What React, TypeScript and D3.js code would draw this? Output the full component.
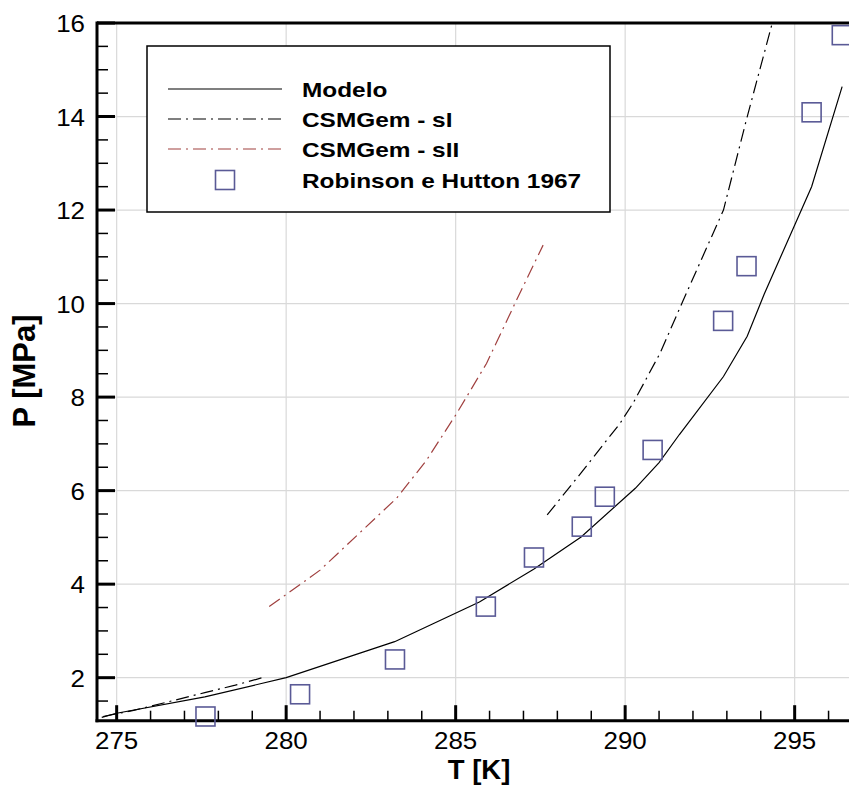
import React from "react";
import * as d3 from "d3";

const modeloT = [274.56, 275.0, 277.6, 280.0, 283.2, 285.7, 287.3, 288.7, 290.3, 291.0, 291.6, 292.9, 293.6, 294.1, 295.5, 296.4];
const modeloP = [1.15, 1.24, 1.59, 2.0, 2.77, 3.62, 4.32, 5.01, 6.05, 6.6, 7.2, 8.44, 9.3, 10.2, 12.5, 14.64];

const sILowT = [274.6, 275.5, 276.5, 277.6, 278.5, 279.4];
const sILowP = [1.17, 1.3, 1.48, 1.68, 1.84, 2.02];
const sIHighT = [287.7, 288.7, 289.85, 290.24, 291.03, 291.7, 292.9, 293.58, 294.34];
const sIHighP = [5.48, 6.38, 7.44, 7.88, 8.94, 10.05, 12.0, 13.94, 16.0];

const sIIT = [279.5, 280.6, 281.0, 283.26, 284.14, 285.03, 285.91, 286.8, 287.58];
const sIIP = [3.52, 4.09, 4.3, 5.84, 6.65, 7.65, 8.72, 10.08, 11.25];

const expT = [277.62, 280.41, 283.21, 285.89, 287.31, 288.72, 289.4, 290.81, 292.89, 293.58, 295.5, 296.39];
const expP = [1.17, 1.645, 2.39, 3.52, 4.57, 5.23, 5.87, 6.87, 9.63, 10.8, 14.09, 15.74];

const xMajor = [275, 280, 285, 290, 295];
const yMajor = [2, 4, 6, 8, 10, 12, 14, 16];
const legendLabels = ["Modelo", "CSMGem - sI", "CSMGem - sII", "Robinson e Hutton 1967"];

const W = 849;
const H = 785;
const left = 97;
const top = 23;
const bottom = 720.7;

export default function App() {
  const x = d3.scaleLinear().domain([274.42, 297]).range([left, left + (297 - 274.42) * 33.9]);
  const y = d3.scaleLinear().domain([1.08, 16]).range([bottom, top]);

  const line = d3
    .line<[number, number]>()
    .x((d) => x(d[0]))
    .y((d) => y(d[1]));

  const zip = (a: number[], b: number[]) => a.map((v, i) => [v, b[i]] as [number, number]);

  const xMinor = d3.range(275, 298, 1).filter((v) => v % 5 !== 0);
  const yMinor = d3.range(1.5, 16, 0.5).filter((v) => Math.abs(v % 2) > 0.01);

  const dash = "13 5 2 5";
  const red = "#a0403f";
  const sqColor = "#5a5a96";
  const legendY = [89, 119, 149, 180];

  return (
    <svg
      width={W}
      height={H}
      style={{ position: "absolute", left: 0, top: 0, background: "#fff" }}
      fontFamily="'Liberation Sans', Arial, sans-serif"
    >
      <defs>
        <clipPath id="plotclip">
          <rect x={left} y={top} width={W - left} height={bottom - top} />
        </clipPath>
      </defs>
      <rect x={0} y={0} width={W} height={H} fill="#fff" />
      {/* grid */}
      {xMajor.map((v) => (
        <line key={"gx" + v} x1={x(v)} x2={x(v)} y1={top} y2={bottom} stroke="#d9d9d9" strokeWidth={1.2} />
      ))}
      {yMajor.map((v) => (
        <line key={"gy" + v} x1={left} x2={W} y1={y(v)} y2={y(v)} stroke="#d9d9d9" strokeWidth={1.2} />
      ))}

      {/* legend */}
      <rect x={147} y={46} width={463} height={166} fill="#fff" stroke="#000" strokeWidth={1.5} />
      <line x1={168} x2={282} y1={legendY[0]} y2={legendY[0]} stroke="#000" strokeWidth={1.2} />
      <line x1={168} x2={282} y1={legendY[1]} y2={legendY[1]} stroke="#000" strokeWidth={1.2} strokeDasharray={dash} />
      <line x1={168} x2={282} y1={legendY[2]} y2={legendY[2]} stroke={red} strokeWidth={1.2} strokeDasharray={dash} />
      <rect x={225 - 9.5} y={legendY[3] - 9.5} width={19} height={19} fill="none" stroke={sqColor} strokeWidth={1.6} />
      {legendLabels.map((t, i) => (
        <text
          key={t}
          transform={`translate(302, ${legendY[i] + 8}) scale(1.22, 1)`}
          fontSize={20}
          fontWeight="bold"
          fill="#000"
        >
          {t}
        </text>
      ))}

      {/* curves */}
      <g clipPath="url(#plotclip)" fill="none">
        <path d={line(zip(modeloT, modeloP)) || ""} stroke="#000" strokeWidth={1.2} />
        <path d={line(zip(sILowT, sILowP)) || ""} stroke="#000" strokeWidth={1.2} strokeDasharray={dash} />
        <path d={line(zip(sIHighT, sIHighP)) || ""} stroke="#000" strokeWidth={1.2} strokeDasharray={dash} />
        <path d={line(zip(sIIT, sIIP)) || ""} stroke={red} strokeWidth={1.2} strokeDasharray={dash} />
      </g>

      {/* axes */}
      <line x1={left} x2={W} y1={top} y2={top} stroke="#000" strokeWidth={3} />
      <line x1={left} x2={left} y1={top - 1.5} y2={bottom + 1.5} stroke="#000" strokeWidth={3} />
      <line x1={left - 1.5} x2={W} y1={bottom} y2={bottom} stroke="#000" strokeWidth={3} />

      {xMajor.map((v) => (
        <line key={"xt" + v} x1={x(v)} x2={x(v)} y1={bottom} y2={bottom - 15.5} stroke="#000" strokeWidth={3} />
      ))}
      {xMinor.map((v) => (
        <line key={"xm" + v} x1={x(v)} x2={x(v)} y1={bottom} y2={bottom - 10} stroke="#000" strokeWidth={1.5} />
      ))}
      {yMajor.map((v) => (
        <line key={"yt" + v} x1={left} x2={left + 18} y1={y(v)} y2={y(v)} stroke="#000" strokeWidth={3} />
      ))}
      {yMinor.map((v) => (
        <line key={"ym" + v} x1={left} x2={left + 11} y1={y(v)} y2={y(v)} stroke="#000" strokeWidth={1.5} />
      ))}

      {/* squares */}
      {expT.map((t, i) => (
        <rect
          key={"sq" + i}
          x={x(t) - 9.5}
          y={y(expP[i]) - 9.5}
          width={19}
          height={19}
          fill="none"
          stroke={sqColor}
          strokeWidth={1.6}
        />
      ))}

      {/* tick labels */}
      {xMajor.map((v) => (
        <text
          key={"xl" + v}
          transform={`translate(${x(v)}, 749) scale(1.08, 1)`}
          textAnchor="middle"
          fontSize={24}
          fill="#000"
        >
          {v}
        </text>
      ))}
      {yMajor.map((v) => (
        <text
          key={"yl" + v}
          transform={`translate(85, ${y(v) + 9}) scale(1.08, 1)`}
          textAnchor="end"
          fontSize={24}
          fill="#000"
        >
          {v}
        </text>
      ))}

      {/* axis titles */}
      <text x={479} y={779} textAnchor="middle" fontSize={27.5} fontWeight="bold" fill="#000">
        T [K]
      </text>
      <text
        transform={`translate(35, 371) rotate(-90)`}
        textAnchor="middle"
        fontSize={31}
        fontWeight="bold"
        fill="#000"
      >
        P [MPa]
      </text>
    </svg>
  );
}
